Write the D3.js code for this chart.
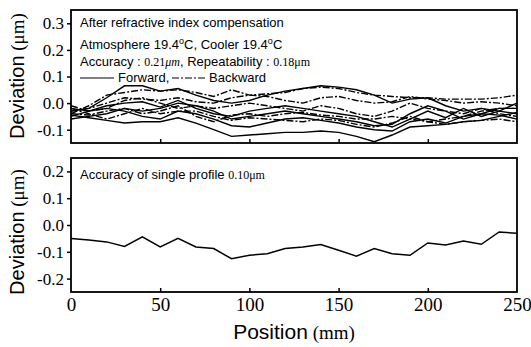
<!DOCTYPE html>
<html>
<head>
<meta charset="utf-8">
<script src="https://cdn.jsdelivr.net/npm/d3@7"></script>
<style>
  html, body { margin: 0; padding: 0; background: #fff; }
  svg { display: block; }
</style>
</head>
<body>
<svg id="chart" width="531" height="347"></svg>
<script>
// Position along the scan (mm), sampled every 10 mm
const positions = [0,10,20,30,40,50,60,70,80,90,100,110,120,130,140,150,160,170,180,190,200,210,220,230,240,250];

// Repeated profiles after refractive index compensation (µm)
const forward1 = [-0.03,-0.02,0.02,0.065,0.065,0.045,0.055,0.03,0.01,0.0,0.01,0.03,0.045,0.055,0.065,0.06,0.05,0.03,0.0,0.015,0.02,-0.01,-0.03,-0.02,-0.03,-0.04];
const forward2 = [-0.045,-0.055,-0.065,-0.075,-0.07,-0.07,-0.055,-0.075,-0.1,-0.125,-0.12,-0.115,-0.11,-0.11,-0.105,-0.11,-0.125,-0.145,-0.12,-0.09,-0.085,-0.08,-0.07,-0.065,-0.05,-0.035];
const forward3 = [-0.05,-0.03,-0.02,-0.03,-0.05,-0.06,-0.03,-0.04,-0.06,-0.085,-0.09,-0.075,-0.06,-0.055,-0.065,-0.075,-0.09,-0.1,-0.105,-0.07,-0.06,-0.075,-0.05,-0.04,-0.045,-0.06];
const forward4 = [-0.02,-0.03,-0.01,0.0,0.005,-0.015,0.01,-0.02,-0.04,-0.05,-0.03,-0.02,-0.01,-0.02,-0.03,-0.04,-0.05,-0.07,-0.09,-0.06,-0.03,-0.055,-0.02,-0.05,-0.03,0.0];
const forward5 = [-0.06,-0.05,-0.04,-0.02,-0.03,-0.02,0.0,-0.01,-0.03,-0.06,-0.05,-0.04,-0.03,-0.04,-0.05,-0.06,-0.07,-0.085,-0.08,-0.04,-0.01,-0.03,-0.06,-0.04,-0.02,-0.02];
const backward1 = [-0.04,-0.01,0.03,0.04,0.05,0.045,0.05,0.04,0.025,0.05,0.03,0.035,0.04,0.055,0.06,0.055,0.04,0.03,0.025,0.02,0.02,0.015,0.015,0.015,0.02,0.03];
const backward2 = [-0.03,-0.02,0.0,0.02,0.015,0.01,0.02,0.005,0.0,0.02,0.03,0.025,0.01,0.0,0.02,0.025,0.01,0.0,0.005,0.025,0.015,0.01,0.0,0.005,0.0,-0.01];
const backward3 = [-0.01,-0.03,-0.02,0.01,0.02,0.0,-0.02,-0.01,-0.02,-0.01,0.0,-0.01,-0.02,-0.03,-0.01,-0.02,-0.04,-0.05,-0.03,0.0,-0.02,-0.03,-0.04,-0.02,-0.04,-0.05];
const backward4 = [-0.04,-0.045,-0.03,-0.02,-0.04,-0.03,-0.01,-0.05,-0.07,-0.045,-0.04,-0.05,-0.04,-0.035,-0.045,-0.05,-0.06,-0.06,-0.05,-0.06,-0.07,-0.06,-0.05,-0.03,-0.02,-0.02];
const backward5 = [-0.02,-0.04,-0.06,-0.04,-0.02,-0.04,-0.03,-0.03,-0.05,-0.065,-0.055,-0.06,-0.065,-0.07,-0.06,-0.065,-0.08,-0.09,-0.075,-0.05,-0.07,-0.08,-0.07,-0.065,-0.06,-0.07];

// Single profile (µm)
const singleProfile = [-0.05,-0.056,-0.063,-0.08,-0.044,-0.082,-0.05,-0.082,-0.088,-0.126,-0.113,-0.107,-0.088,-0.082,-0.073,-0.094,-0.116,-0.088,-0.107,-0.113,-0.067,-0.075,-0.06,-0.072,-0.026,-0.031];

const xTicks = [0,50,100,150,200,250];
const topTicks = [0.3,0.2,0.1,0.0,-0.1];
const bottomTicks = [0.2,0.1,0.0,-0.1,-0.2];

const SERIF = "'Liberation Serif','Times New Roman',serif";
const SANS = "'Liberation Sans',Arial,sans-serif";

const svg = d3.select("#chart");

const x = d3.scaleLinear().domain([0, 250]).range([71, 517]);
const yTop = d3.scaleLinear().domain([-0.15, 0.35]).range([143, 10]);
const yBot = d3.scaleLinear().domain([-0.25, 0.25]).range([292, 158]);

const fmt = v => (v < 0 ? "-" : "") + Math.abs(v).toFixed(1);

function panel(y, ticks, showXLabels) {
  const g = svg.append("g");
  const [y0, y1] = y.range();
  // frame
  g.append("rect")
    .attr("x", x(0)).attr("y", y1)
    .attr("width", x(250) - x(0)).attr("height", y0 - y1)
    .attr("fill", "none").attr("stroke", "#000").attr("stroke-width", 1.8);

  // y axis ticks and labels
  const ya = d3.axisLeft(y).tickValues(ticks).tickSize(4).tickPadding(3).tickFormat(fmt);
  const yg = g.append("g").attr("transform", `translate(${x(0)},0)`).call(ya);
  yg.select(".domain").remove();
  yg.selectAll("line").attr("stroke-width", 1.5);
  yg.selectAll("text").attr("font-family", SERIF).attr("font-size", 17).attr("fill", "#000");

  // x axis ticks (inward)
  const xa = d3.axisTop(x).tickValues([50,100,150,200]).tickSize(4).tickFormat("");
  const xg = g.append("g").attr("transform", `translate(0,${y0})`).call(xa);
  xg.select(".domain").remove();
  xg.selectAll("line").attr("stroke-width", 1.5);

  if (showXLabels) {
    const xb = d3.axisBottom(x).tickValues(xTicks).tickSize(0).tickPadding(6).tickFormat(d3.format("d"));
    const xl = g.append("g").attr("transform", `translate(0,${y0})`).call(xb);
    xl.select(".domain").remove();
    xl.selectAll("text").attr("font-family", SERIF).attr("font-size", 19).attr("fill", "#000");
  }
  return g;
}

const gTop = panel(yTop, topTicks, false);
const gBot = panel(yBot, bottomTicks, true);

const lineTop = d3.line().x((d, i) => x(positions[i])).y(d => yTop(d));
const lineBot = d3.line().x((d, i) => x(positions[i])).y(d => yBot(d));

[forward1, forward2, forward3, forward4, forward5].forEach(s => {
  gTop.append("path").attr("d", lineTop(s)).attr("fill", "none")
    .attr("stroke", "#000").attr("stroke-width", 1.4);
});
[backward1, backward2, backward3, backward4, backward5].forEach(s => {
  gTop.append("path").attr("d", lineTop(s)).attr("fill", "none")
    .attr("stroke", "#000").attr("stroke-width", 1.4).attr("stroke-dasharray", "7,2,2,2");
});

gBot.append("path").attr("d", lineBot(singleProfile)).attr("fill", "none")
  .attr("stroke", "#000").attr("stroke-width", 1.5);

// annotations, top panel
const ann = svg.append("g").attr("font-family", SANS).attr("font-size", 13).attr("fill", "#000");
ann.append("text").attr("x", 80).attr("y", 27).text("After refractive index compensation");
const t2 = ann.append("text").attr("x", 80).attr("y", 49);
t2.append("tspan").text("Atmosphere 19.4");
t2.append("tspan").attr("dy", -5).attr("font-size", 9).text("o");
t2.append("tspan").attr("dy", 5).text("C,  Cooler 19.4");
t2.append("tspan").attr("dy", -5).attr("font-size", 9).text("o");
t2.append("tspan").attr("dy", 5).text("C");
const t3 = ann.append("text").attr("x", 80).attr("y", 66);
t3.append("tspan").text("Accuracy : ");
t3.append("tspan").attr("font-family", SERIF).attr("font-size", 12).text("0.21");
t3.append("tspan").attr("font-family", SERIF).attr("font-size", 12).attr("font-style", "italic").text("μm");
t3.append("tspan").text(",  Repeatability : ");
t3.append("tspan").attr("font-family", SERIF).attr("font-size", 12).text("0.18μm");

svg.append("line").attr("x1", 80).attr("x2", 114).attr("y1", 78).attr("y2", 78)
  .attr("stroke", "#000").attr("stroke-width", 1.2);
ann.append("text").attr("x", 118).attr("y", 82).text("Forward,");
svg.append("line").attr("x1", 172).attr("x2", 206).attr("y1", 78).attr("y2", 78)
  .attr("stroke", "#000").attr("stroke-width", 1.2).attr("stroke-dasharray", "7,2,2,2");
ann.append("text").attr("x", 209).attr("y", 82).text("Backward");

// annotation, bottom panel
const t5 = ann.append("text").attr("x", 80).attr("y", 179);
t5.append("tspan").text("Accuracy of single profile  ");
t5.append("tspan").attr("font-family", SERIF).attr("font-size", 12).text("0.10μm");

// axis titles
function yTitle(cy) {
  const t = svg.append("text")
    .attr("transform", `translate(24,${cy}) rotate(-90)`)
    .attr("text-anchor", "middle").attr("fill", "#000");
  t.append("tspan").attr("font-family", SANS).attr("font-size", 20).text("Deviation");
  t.append("tspan").attr("font-family", SERIF).attr("font-size", 19).text("  (μm)");
}
yTitle(76);
yTitle(232);

const xt = svg.append("text").attr("x", 294).attr("y", 339).attr("text-anchor", "middle").attr("fill", "#000");
xt.append("tspan").attr("font-family", SANS).attr("font-size", 21).text("Position");
xt.append("tspan").attr("font-family", SERIF).attr("font-size", 19).text("  (mm)");
</script>
</body>
</html>
